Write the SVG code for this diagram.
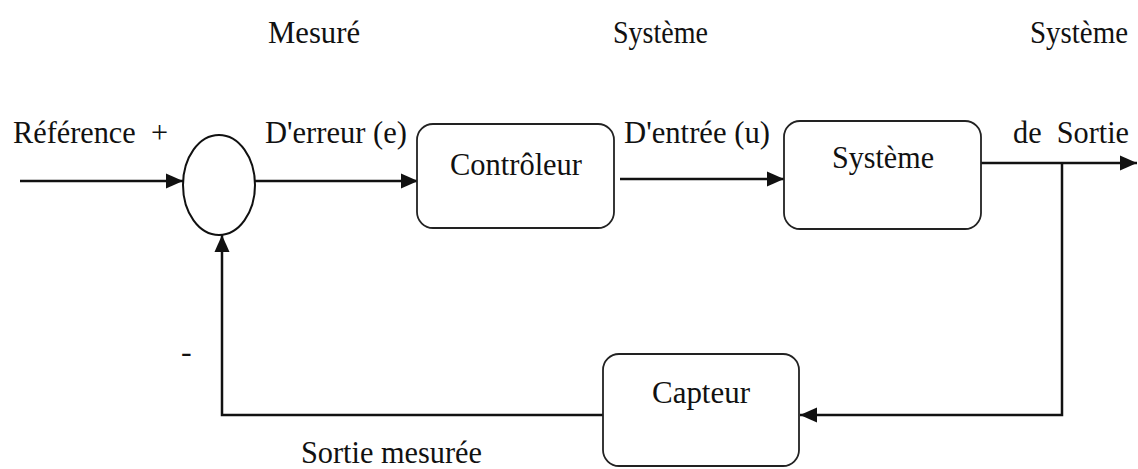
<svg xmlns="http://www.w3.org/2000/svg" width="1138" height="469" viewBox="0 0 1138 469">
<defs>
<style>
.box{fill:#fff;stroke:#222;stroke-width:1.8}
.wire{fill:none;stroke:#111;stroke-width:2.5}
</style>
<marker id="ah" markerUnits="userSpaceOnUse" markerWidth="17" markerHeight="17" viewBox="0 0 17 17" refX="17" refY="8.5" orient="auto">
<path d="M0,1 L17,8.5 L0,16 Z" fill="#111"/>
</marker>
</defs>
<rect width="1138" height="469" fill="#fff"/>
<g font-family="Liberation Serif, Times New Roman, serif" font-size="32" fill="#111">
<g id="labels">
<text x="268" y="43" textLength="92" lengthAdjust="spacingAndGlyphs">Mesuré</text>
<text x="613" y="43" textLength="95" lengthAdjust="spacingAndGlyphs">Système</text>
<text x="1030" y="43" textLength="98" lengthAdjust="spacingAndGlyphs">Système</text>
<text x="13" y="143" xml:space="preserve" textLength="155" lengthAdjust="spacingAndGlyphs">Référence  +</text>
<text x="265" y="143" textLength="142" lengthAdjust="spacingAndGlyphs">D'erreur (e)</text>
<text x="624" y="143" textLength="146" lengthAdjust="spacingAndGlyphs">D'entrée (u)</text>
<text x="1013" y="143" xml:space="preserve" textLength="116" lengthAdjust="spacingAndGlyphs">de  Sortie</text>
<text x="181" y="362">-</text>
<text x="301" y="463" textLength="181" lengthAdjust="spacingAndGlyphs">Sortie mesurée</text>
</g>
<g id="connectors">
<path class="wire" d="M20,181 H183" marker-end="url(#ah)"/>
<path class="wire" d="M255,181 H418" marker-end="url(#ah)"/>
<path class="wire" d="M620,179 H784" marker-end="url(#ah)"/>
<path class="wire" d="M981,163 H1137" marker-end="url(#ah)"/>
<path class="wire" d="M1062,163 V415 H800" marker-end="url(#ah)"/>
<path class="wire" d="M603,415 H222 V235" marker-end="url(#ah)"/>
</g>
<g id="sum">
<ellipse cx="219" cy="185" rx="36" ry="50" fill="#fff" stroke="#111" stroke-width="2"/>
</g>
<g id="controleur">
<rect class="box" x="417" y="124" width="197" height="104" rx="16"/>
<text x="450" y="175" textLength="132" lengthAdjust="spacingAndGlyphs">Contrôleur</text>
</g>
<g id="systeme">
<rect class="box" x="784" y="121" width="197" height="108" rx="16"/>
<text x="832" y="168" textLength="102" lengthAdjust="spacingAndGlyphs">Système</text>
</g>
<g id="capteur">
<rect class="box" x="603" y="354" width="196" height="112" rx="16"/>
<text x="652" y="403" textLength="98" lengthAdjust="spacingAndGlyphs">Capteur</text>
</g>
</g>
</svg>
